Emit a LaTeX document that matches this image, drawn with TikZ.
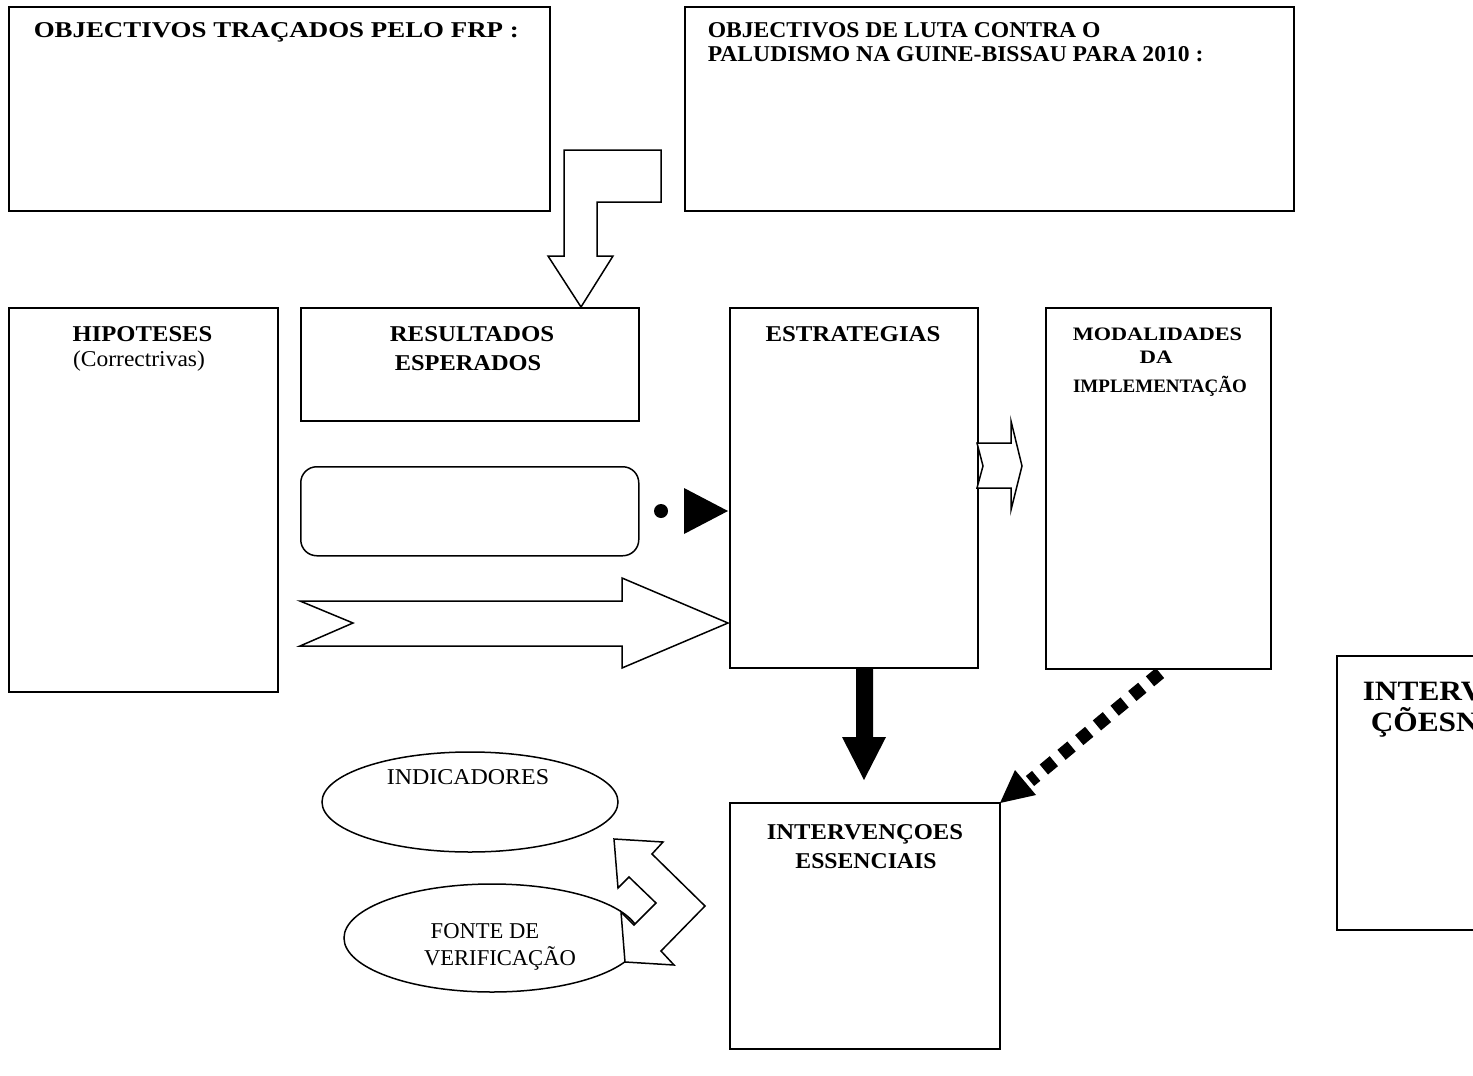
\documentclass[tikz,border=0pt]{standalone}
\usepackage{fontspec}
\usepackage{graphicx}
\usetikzlibrary{shapes.geometric}
\setmainfont{Liberation Serif}
\newcommand{\sx}[2]{\scalebox{#1}[1]{#2}}
\begin{document}
\begin{tikzpicture}[x=1pt,y=-1pt,line width=1.5pt,line join=miter,
  box/.style={draw,rectangle,inner sep=0pt,anchor=north west},
  ttl/.style={inner sep=0pt,anchor=base,font=\fontsize{22.6}{26}\selectfont\bfseries},
  top/.style={inner sep=0pt,anchor=base west,font=\fontsize{22.6}{26}\selectfont\bfseries},
  sml/.style={inner sep=0pt,anchor=base,font=\fontsize{19}{22}\selectfont\bfseries},
  nrm/.style={inner sep=0pt,anchor=base,font=\fontsize{22.6}{26}\selectfont},
  rgt/.style={inner sep=0pt,anchor=base west,font=\fontsize{28}{30}\selectfont\bfseries},
  openarrow/.style={draw,fill=white,line width=1.5pt},
  dotted arrow/.style={line width=13pt,dash pattern=on 13pt off 10pt}]
\useasboundingbox (0,0) rectangle (1473,1076);
\clip (0,0) rectangle (1473,1076);
% top boxes
\node[box,minimum width=541pt,minimum height=204pt] (obj1) at (8,6) {};
\node[top] (obj1t) at (33,37) {\sx{1.19}{OBJECTIVOS TRAÇADOS PELO FRP :}};
\node[box,minimum width=609pt,minimum height=204pt] (obj2) at (684,6) {};
\node[top] (obj2a) at (707,37) {\sx{1.045}{OBJECTIVOS DE LUTA CONTRA O}};
\node[top] (obj2b) at (707,61) {\sx{1.045}{PALUDISMO NA GUINE-BISSAU PARA 2010 :}};
% bent open arrow
\draw[openarrow] (564,150) -- (661,150) -- (661,202) -- (597,202) -- (597,256) -- (613,256) -- (581,307) -- (548,256) -- (564,256) -- cycle;
% middle row boxes
\node[box,minimum width=269pt,minimum height=384pt] (hip) at (8,307) {};
\node[ttl] (hipt) at (142.5,341) {\sx{1.09}{HIPOTESES}};
\node[nrm] (hipt2) at (139,366) {\sx{1.04}{(Correctrivas)}};
\node[box,minimum width=338pt,minimum height=113pt] (res) at (300,307) {};
\node[ttl] (rest) at (472,341) {\sx{1.1}{RESULTADOS}};
\node[ttl] (rest2) at (468,370) {\sx{1.08}{ESPERADOS}};
\node[box,minimum width=248pt,minimum height=360pt] (est) at (729,307) {};
\node[ttl] (estt) at (853,341) {\sx{1.1}{ESTRATEGIAS}};
\node[box,minimum width=225pt,minimum height=361pt] (mod) at (1045,307) {};
\node[sml] (modt) at (1157.5,340) {\sx{1.17}{MODALIDADES}};
\node[sml] (modt2) at (1156,363) {\sx{1.2}{DA}};
\node[sml] (modt3) at (1160,392) {\sx{1.0}{IMPLEMENTAÇÃO}};
% rounded box
\node[draw,rounded corners=16pt,rectangle,inner sep=0pt,minimum width=338pt,minimum height=89pt,anchor=north west] (rnd) at (300,466) {};
% dot and triangle
\fill (661,511) circle (7);
\fill (684,488) -- (728,511) -- (684,534) -- cycle;
% big open arrow
\draw[openarrow] (300,601) -- (622,601) -- (622,578) -- (728,623) -- (622,668) -- (622,646) -- (300,646) -- (353,623) -- cycle;
% small open arrow
\draw[openarrow] (977,443) -- (1011,443) -- (1011,421) -- (1022,466) -- (1011,510) -- (1011,488) -- (977,488) -- (983,466) -- cycle;
% bottom box
\node[box,minimum width=270pt,minimum height=246pt] (int) at (729,802) {};
\node[ttl] (intt) at (865,839) {\sx{1.09}{INTERVENÇOES}};
\node[ttl] (intt2) at (866,868) {\sx{1.05}{ESSENCIAIS}};
% thick black arrow
\fill (856,668) -- (873,668) -- (873,737) -- (886,737) -- (864,780) -- (842,737) -- (856,737) -- cycle;
% dotted arrow
\coordinate (dotA) at (1160,673);
\coordinate (dotB) at (1030,781);
\draw[dotted arrow] (dotA) -- (dotB);
\fill (1000,803) -- (1015,770) -- (1036,795) -- cycle;
% ellipses
\node[draw,ellipse,minimum width=296pt,minimum height=100pt,inner sep=0pt] (indE) at (470,802) {};
\node[nrm] (ind) at (468,784) {\sx{1.06}{INDICADORES}};
\node[draw,ellipse,minimum width=296pt,minimum height=108pt,inner sep=0pt] (fonE) at (492,938) {};
\node[nrm] (fon) at (485,938) {FONTE DE};
\node[nrm] (fon2) at (500,965) {VERIFICAÇÃO};
% double bent arrow
\draw[openarrow] (614,839) -- (663,842) -- (652,854) -- (705,906) -- (661,951) -- (674,965) -- (625,962) -- (621,912) -- (634,925) -- (656,903) -- (629,877) -- (618,888) -- cycle;
% right cut-off box
\draw (1337,656) rectangle (1500,930);
\node[rgt] (rgt1) at (1362,700) {\sx{1.12}{INTERV}};
\node[rgt] (rgt2) at (1370,731) {\sx{1.12}{ÇÕESN}};
\end{tikzpicture}
\end{document}
